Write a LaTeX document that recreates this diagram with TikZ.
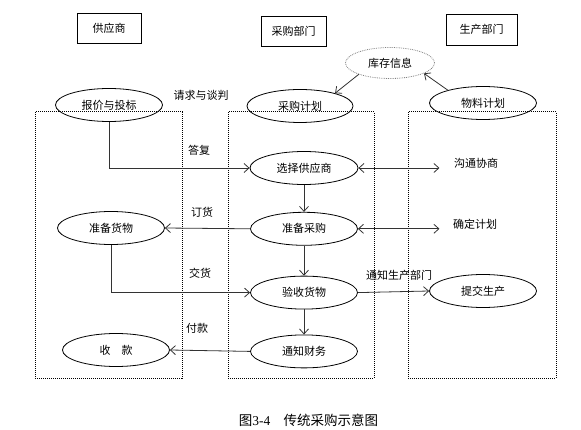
\documentclass[tikz,border=0pt]{standalone}
\usepackage{fontspec}
\setmainfont{Liberation Serif}
\newfontfamily\cjk{Noto Sans CJK SC}
\usetikzlibrary{positioning,arrows.meta,shapes.geometric}

\begin{document}
\begin{tikzpicture}[
  x=1pt, y=-1pt,
  font=\cjk\fontsize{11}{13}\selectfont,
  dept/.style={
    draw,
    line width=0.8pt,
    minimum width=64pt,
    minimum height=30pt,
    inner sep=0pt
  },
  task/.style={
    ellipse,
    draw,
    line width=0.8pt,
    minimum width=107pt,
    minimum height=33pt,
    inner sep=0pt
  },
  zone/.style={line width=1pt, dash pattern=on 1pt off 1pt},
  flow/.style={-{Straight Barb[length=5pt,width=9pt]}, line width=0.8pt, draw=black!80},
  both/.style={{Straight Barb[length=5pt,width=9pt]}-{Straight Barb[length=5pt,width=9pt]}, line width=0.8pt, draw=black!80}
]
\useasboundingbox (0,0) rectangle (581,430);

% En-tetes des trois colonnes
\node[dept] (gys) at (109,28) {供应商};
\node[dept, minimum width=65pt] (cgbm) at (293.5,31) {采购部门};
\node[dept, minimum width=71pt, minimum height=31pt] (scbm) at (481.5,29.5) {生产部门};

% Zones en pointilles
\draw[zone] (35,112) rectangle (182,378);
\draw[zone] (228,112) rectangle (374,378);
\draw[zone] (408,112) rectangle (556,378);

% Colonne fournisseur
\node[task] (bjtb) at (109,105) {报价与投标};
\node[task] (zbhw) at (111,228) {准备货物};
\node[task] (sk) at (116,350) {收\hspace{1em}款};

% Colonne achats
\node[task, minimum width=106pt] (cgjh) at (300,106) {采购计划};
\node[task, minimum width=89pt, minimum height=31pt, densely dotted, draw=gray] (kcxx) at (390,63) {库存信息};
\node[task, minimum width=108pt] (xzgys) at (304,168) {选择供应商};
\node[task, below=27pt of xzgys] (zbcg) {准备采购};
\node[task, below=30pt of zbcg] (ysh) {验收货物};
\node[task, below=25pt of ysh] (tzcw) {通知财务};

% Colonne production
\node[task] (wljh) at (483,103) {物料计划};
\node[task] (tjsc) at (483,291) {提交生产};
\node (gtxs) at (476,163) {沟通协商};
\node (qdjh) at (475,224) {确定计划};

% Etiquettes
\node (qqtp) at (201,95) {请求与谈判};
\node (df) at (199,150) {答复};
\node (dh) at (202,212) {订货};
\node (jh) at (200,273) {交货};
\node (fk) at (197,328) {付款};
\node (tzsc) at (399,275) {通知生产部门};

% Fleches
\draw[flow] (bjtb.south) |- (xzgys.west);
\draw[flow] (kcxx.200) -- (cgjh.20);
\draw[flow] (wljh.160) -- (kcxx.-17);
\draw[both, shorten >=11pt] (xzgys.east) -- (xzgys.east -| gtxs.west);
\draw[flow] (xzgys) -- (zbcg);
\draw[flow] (zbcg.west) -- (zbhw.east);
\draw[both, shorten >=10pt] (zbcg.east) -- (zbcg.east -| qdjh.west);
\draw[flow] (zbcg) -- (ysh);
\draw[flow] (zbhw.south) |- (ysh.west);
\draw[flow] (ysh.east) -- (tjsc.west);
\draw[flow] (ysh) -- (tzcw);
\draw[flow] (tzcw.west) -- (sk.east);

% Legende
\node[font=\cjk\fontsize{13.5}{15}\selectfont] (cap) at (308.5,420) {图{\rmfamily 3-4}\hspace{1em}传统采购示意图};
\end{tikzpicture}
\end{document}
